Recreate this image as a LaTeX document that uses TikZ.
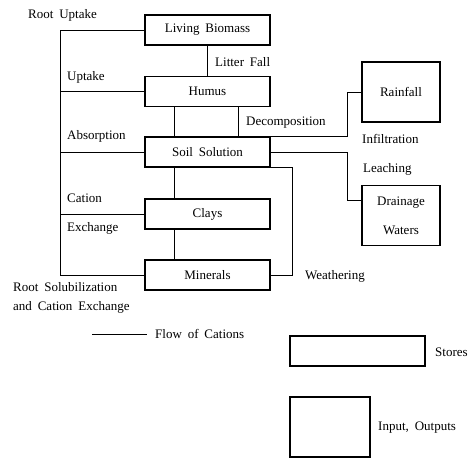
\documentclass[tikz,border=0pt]{standalone}
\usepackage{fontspec}
\setmainfont{Liberation Serif}[WordSpace=1.8]
\tikzset{
    store/.style={draw, line width=1.2pt, minimum width=125pt, minimum height=30pt, inner sep=0pt},
    inout/.style={draw, line width=1.2pt, minimum width=78pt, minimum height=60pt, inner sep=0pt},
    flow/.style={line width=1pt},
    lbl/.style={anchor=west, inner sep=0pt}
}
\begin{document}
\begin{tikzpicture}[x=1pt, y=-1pt, font=\fontsize{13}{15}\selectfont]
        \useasboundingbox (0, 0) rectangle (473, 459);
        % stores
        \node[store] (bio) at (207.5, 30) {Living Biomass};
        \node[store] (hum) at (207.5, 91.5) {Humus};
        \node[store] (sol) at (207.5, 152) {Soil Solution};
        \node[store] (cla) at (207.5, 214) {Clays};
        \node[store] (min) at (207.5, 275) {Minerals};
        % inputs, outputs
        \node[inout] (rain) at (401, 92) {Rainfall};
        \node[inout, align=center] (drain) at (401, 215.5) {Drainage\\[14pt]Waters};

        \coordinate (spine) at (60, 0);
        \coordinate (bend) at (347, 0);

        % root side
        \draw[flow] (bio.west) -- (bio.west -| spine) -- (min.west -| spine) -- (min.west);
        \draw[flow] (hum.west) -- (hum.west -| spine);
        \draw[flow] (sol.west) -- (sol.west -| spine);
        \draw[flow] (cla.west) -- (cla.west -| spine);

        % between stores
        \draw[flow] (bio) -- (hum);
        \draw[flow] ([xshift=30pt]hum.south west) -- ([xshift=30pt]sol.north west);
        \draw[flow] ([xshift=-32pt]hum.south east) -- ([xshift=-32pt]sol.north east);
        \draw[flow] ([xshift=30pt]sol.south west) -- ([xshift=30pt]cla.north west);
        \draw[flow] ([xshift=30pt]cla.south west) -- ([xshift=30pt]min.north west);
        \draw[flow] (sol.south east) -- ++(22, 0) |- (min.east);

        % in and out
        \draw[flow] (rain.west) -- (rain.west -| bend) |- (sol.north east);
        \draw[flow] (sol.east) -- (sol.east -| bend) |- ([yshift=15.5pt]drain.west);

        % labels
        \node[lbl] (rootup) at (28, 15) {Root Uptake};
        \node[lbl] (uptake) at (67, 77) {Uptake};
        \node[lbl] (absorb) at (67, 136) {Absorption};
        \node[lbl] (cation) at (67, 198) {Cation};
        \node[lbl] (exch) at (67, 228) {Exchange};
        \node[lbl, align=left, font=\fontsize{13}{19}\selectfont] (solub) at (13, 297.5) {Root Solubilization\\and Cation Exchange};
        \node[lbl] (litter) at (215, 62) {Litter Fall};
        \node[lbl] (decomp) at (246, 123) {Decomposition};
        \node[lbl] (infil) at (362, 139) {Infiltration};
        \node[lbl] (leach) at (363, 169) {Leaching};
        \node[lbl] (weath) at (305, 276) {Weathering};

        % legend
        \node[lbl] (flowlbl) at (155, 334) {Flow of Cations};
        \coordinate (legline) at (92, 334);
        \draw[flow] (legline) -- ([xshift=-8pt]flowlbl.west);
        \node[store, minimum width=135pt] (keystore) at (357.5, 351) {};
        \node[lbl] (storelbl) at (435, 352) {Stores};
        \node[inout, minimum width=80pt] (keyio) at (330, 427) {};
        \node[lbl] (iolbl) at (378, 428) {Input, Outputs};
    \end{tikzpicture}
\end{document}
